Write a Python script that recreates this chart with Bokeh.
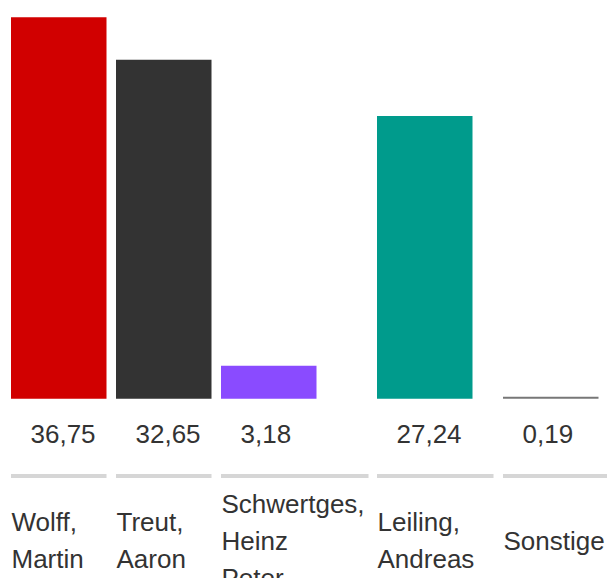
from bokeh.plotting import figure
from bokeh.models import Range1d, ColumnDataSource
from bokeh.embed import file_html
from bokeh.resources import INLINE
from bokeh.core.properties import value

# ---- data ----
label_lines = [["Wolff,", "Martin"], ["Treut,", "Aaron"], ["Schwertges,", "Heinz", "Peter"],
               ["Leiling,", "Andreas"], ["Sonstige"]]
values = [36.75, 32.65, 3.18, 27.24, 0.19]
value_labels = ["36,75", "32,65", "3,18", "27,24", "0,19"]
colors = ["#d10000", "#333333", "#8a4bff", "#009b8c", "#777777"]

# ---- layout (figure pixels) ----
W, H = 607, 578
col_left = [10.5, 115.5, 220.5, 376.5, 502.5]
col_width = [95.5, 95.5, 147.5, 116.5, 125]
bar_w = 95.5
zero_px = 398.3          # pixel row (from top) of value 0
px_per_unit = 381.6 / 36.75

y_top = zero_px / px_per_unit
y_bot = -(H - zero_px) / px_per_unit

p = figure(width=W, height=H, output_backend="svg", toolbar_location=None,
           x_range=Range1d(0, W), y_range=Range1d(y_bot, y_top),
           min_border=0, outline_line_color=None)
p.axis.visible = False
p.grid.visible = False
p.extra_y_ranges = {"px": Range1d(H, 0)}

bars = ColumnDataSource(dict(left=col_left, right=[l + bar_w for l in col_left],
                             top=values, color=colors))
p.quad(left="left", right="right", bottom=0, top="top", color="color",
       line_color=None, source=bars)

FONT = value("Liberation Sans")
vals = ColumnDataSource(dict(x=[l + 19.5 for l in col_left], y=[433.5] * len(values), t=value_labels))
p.text(x="x", y="y", text="t", source=vals, y_range_name="px", text_font=FONT,
       text_font_size="26px", text_color="#333333", text_baseline="alphabetic",
       text_align="left")

seg = ColumnDataSource(dict(x0=col_left, x1=[l + w for l, w in zip(col_left, col_width)],
                            y=[475.5] * len(col_left)))
p.segment(x0="x0", x1="x1", y0="y", y1="y", source=seg, y_range_name="px",
          line_color="#d6d6d6", line_width=4)

lx, ly, lt = [], [], []
line_h = 37
for left, lines in zip(col_left, label_lines):
    n = len(lines)
    for i, s in enumerate(lines):
        lx.append(left + 0.5)
        ly.append(540 + (i - (n - 1) / 2) * line_h)
        lt.append(s)
labs = ColumnDataSource(dict(x=lx, y=ly, t=lt))
p.text(x="x", y="y", text="t", source=labs, y_range_name="px", text_font=FONT,
       text_font_size="26px", text_color="#333333", text_baseline="alphabetic",
       text_align="left")

open("out.html", "w").write(file_html(p, INLINE))
